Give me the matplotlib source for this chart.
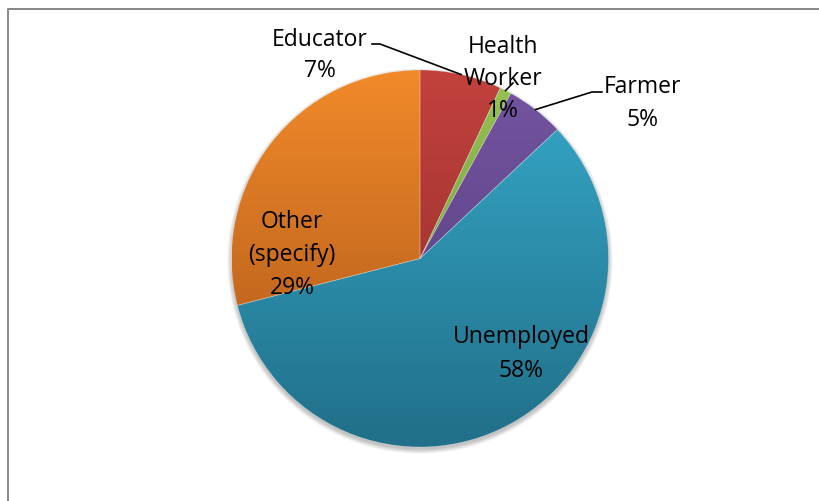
import matplotlib.pyplot as plt
import numpy as np
from matplotlib.colors import LinearSegmentedColormap
from matplotlib.patches import Circle

# Beschäftigung der Befragten (Anteile in %)
categories = ["Educator", "Health\nWorker", "Farmer", "Unemployed", "Other\n(specify)"]
values = [7, 1, 5, 58, 29]

# Verlauf je Segment: oben hell, unten dunkel
top_colors = ["#C2413D", "#96C252", "#7455A2", "#36AACB", "#F18A2A"]
bottom_colors = ["#8E2B28", "#6C9036", "#523A76", "#216F88", "#A85418"]

# Beschriftungen: Mitte x, erste Grundlinie y (Pixel von oben), Zeilenabstand
label_pos = [(320, 46, 31), (503, 53, 32), (643, 93, 33), (521, 343, 34), (292, 228, 33)]

W, H = 819, 501
cx, cy, r = 420, H - 258.5, 188.5


def py(y):
    # Pixel von oben -> Datenkoordinate
    return H - y


def arc_point(i):
    # Punkt auf dem Kreisbogen in der Mitte des Segments i
    frac = (sum(values[:i]) + values[i] / 2) / sum(values)
    ang = np.pi / 2 - 2 * np.pi * frac
    return cx + r * np.cos(ang), cy + r * np.sin(ang)


fig = plt.figure(figsize=(W / 100, H / 100), dpi=100)
ax = fig.add_axes([0, 0, 1, 1])

# weicher Schatten unter dem Kreis
for k in range(7):
    ax.add_patch(Circle((cx, cy - 2.5), r + k * 0.7, color="black", alpha=0.035, lw=0, zorder=0))

wedges, _ = ax.pie(values, startangle=90, counterclock=False, center=(cx, cy), radius=r,
                   frame=True, wedgeprops=dict(edgecolor=(1, 1, 1, 0.3), linewidth=0.5))

grad = np.linspace(0, 1, 256).reshape(-1, 1)
for w, c1, c2 in zip(wedges, top_colors, bottom_colors):
    w.set_facecolor("none")
    w.set_zorder(3)
    cmap = LinearSegmentedColormap.from_list("", [c1, c2])
    im = ax.imshow(grad, extent=(cx - r, cx + r, cy - r, cy + r), origin="upper",
                   cmap=cmap, aspect="auto", zorder=2, interpolation="bilinear")
    im.set_clip_path(w)

# Beschriftungen mit Prozentwert
total = sum(values)
for name, v, (x, y0, step) in zip(categories, values, label_pos):
    lines = name.split("\n") + [f"{v / total * 100:.0f}%"]
    for j, line in enumerate(lines):
        ax.text(x, py(y0 + j * step), line, ha="center", va="baseline",
                fontsize=16.5, family="Open Sans", color="black", zorder=5)

# Führungslinien
ex, ey = arc_point(0)
ax.plot([372, 380, ex], [py(44), py(44), ey], color="black", lw=1.2, zorder=4)
hx, hy = arc_point(1)
ax.plot([513, hx], [py(83), hy], color="black", lw=1.2, zorder=4)
fx, fy = arc_point(2)
ax.plot([fx, 592, 602], [fy, py(92), py(92)], color="black", lw=1.2, zorder=4)

# Rahmen (links und oben)
ax.plot([8, 8, W + 5], [-5, py(9), py(9)], color="#878787", lw=1.4, zorder=6)

ax.set_xlim(0, W)
ax.set_ylim(0, H)
ax.set_aspect("auto")
ax.axis("off")

fig.savefig("out.png", dpi=100, facecolor="white")
